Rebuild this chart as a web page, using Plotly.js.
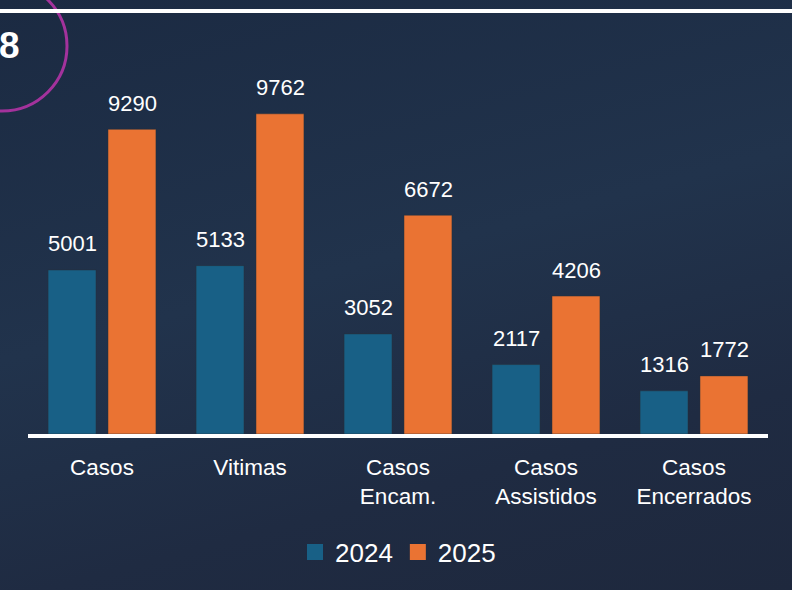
<!DOCTYPE html>
<html>
<head>
<meta charset="utf-8">
<script src="https://cdn.plot.ly/plotly-3.0.1.min.js"></script>
<style>
  html, body { margin: 0; padding: 0; width: 792px; height: 590px; overflow: hidden; }
  body { background: linear-gradient(165deg, #1b2a42 0%, #21334c 45%, #1f2b42 75%, #1e283d 100%); }
  #chart { width: 792px; height: 590px; }
</style>
</head>
<body>
<div id="chart"></div>
<script>
// ---- data ----
const categories = ["Casos", "Vitimas", "Casos<br>Encam.", "Casos<br>Assistidos", "Casos<br>Encerrados"];
const series2024 = [5001, 5133, 3052, 2117, 1316];
const series2025 = [9290, 9762, 6672, 4206, 1772];
const seriesNames = ["2024", "2025"];
const cornerLabel = "8";

const colors = ["#186086", "#ea7333"];
const fontFam = "'Liberation Sans', Arial, sans-serif";

const traces = [
  { type: "bar", name: seriesNames[0], x: categories, y: series2024,
    marker: { color: colors[0], line: { color: "rgba(40,50,60,0.5)", width: 1 } },
    showlegend: false, hoverinfo: "none" },
  { type: "bar", name: seriesNames[1], x: categories, y: series2025,
    marker: { color: colors[1], line: { color: "rgba(40,50,60,0.5)", width: 1 } },
    showlegend: false, hoverinfo: "none" },
  // legend entries
  { type: "scatter", mode: "markers", name: seriesNames[0], x: [categories[0]], y: [null],
    marker: { symbol: "square", size: 17, color: colors[0] }, hoverinfo: "none" },
  { type: "scatter", mode: "markers", name: seriesNames[1], x: [categories[0]], y: [null],
    marker: { symbol: "square", size: 17, color: colors[1] }, hoverinfo: "none" }
];

const annotations = [];
categories.forEach((c, i) => {
  annotations.push({ x: c, y: series2024[i], xref: "x", yref: "y", text: String(series2024[i]),
    showarrow: false, xshift: -30, yshift: 26, yanchor: "middle",
    font: { family: fontFam, size: 22, color: "#ffffff" } });
  annotations.push({ x: c, y: series2025[i], xref: "x", yref: "y", text: String(series2025[i]),
    showarrow: false, xshift: 30, yshift: 26, yanchor: "middle",
    font: { family: fontFam, size: 22, color: "#ffffff" } });
});
annotations.push({ x: -0.0415, y: 1.128, xref: "paper", yref: "paper", text: "<b>" + cornerLabel + "</b>",
  showarrow: false, xanchor: "left", yanchor: "middle",
  font: { family: fontFam, size: 37, color: "#ffffff" } });

const layout = {
  width: 792, height: 590,
  margin: { l: 28, r: 24, t: 90, b: 156 },
  paper_bgcolor: "rgba(0,0,0,0)",
  plot_bgcolor: "rgba(0,0,0,0)",
  font: { family: fontFam, color: "#ffffff" },
  barmode: "group",
  bargap: 0.19,
  bargroupgap: 0.2,
  xaxis: {
    type: "category",
    range: [-0.5, 4.5],
    showline: true, linecolor: "#ffffff", linewidth: 4,
    showgrid: false, zeroline: false, ticks: "",
    tickfont: { family: fontFam, size: 22.5, color: "#ffffff" },
    ticklabelstandoff: 10,
    fixedrange: true
  },
  yaxis: {
    range: [0, 10488],
    visible: false, showgrid: false, zeroline: false,
    fixedrange: true
  },
  showlegend: true,
  legend: {
    orientation: "h", x: 0.5, xanchor: "center", y: -0.343, yanchor: "middle",
    font: { family: fontFam, size: 26, color: "#ffffff" },
    bgcolor: "rgba(0,0,0,0)", itemclick: false, itemdoubleclick: false
  },
  shapes: [
    { type: "circle", xref: "paper", yref: "paper",
      x0: -0.123, x1: 0.0527, y0: 0.939, y1: 1.3169,
      line: { color: "#a3329c", width: 3 }, layer: "above" },
    { type: "line", xref: "paper", yref: "paper",
      x0: -0.06, x1: 1.06, y0: 1.2297, y1: 1.2297,
      line: { color: "#ffffff", width: 4 }, layer: "above" }
  ],
  annotations: annotations
};

Plotly.newPlot("chart", traces, layout, { displayModeBar: false, staticPlot: true });
</script>
</body>
</html>
